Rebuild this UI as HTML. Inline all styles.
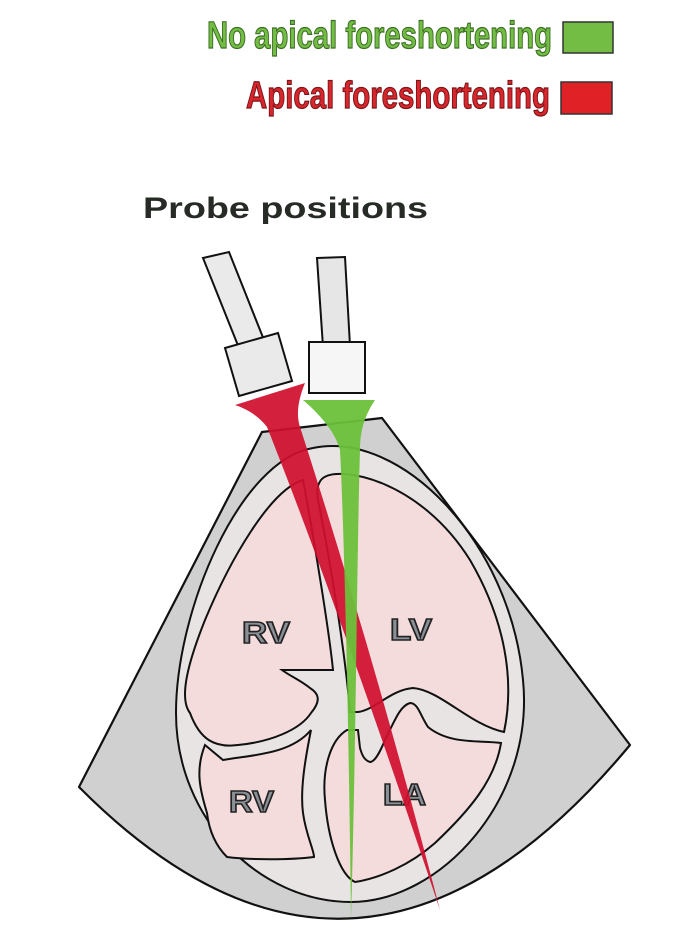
<!DOCTYPE html>
<html><head><meta charset="utf-8"><style>html,body{margin:0;padding:0;background:#fff}svg{display:block}</style></head>
<body>
<svg width="698" height="938" viewBox="0 0 698 938" xmlns="http://www.w3.org/2000/svg" font-family="Liberation Sans, sans-serif">
<!-- legend -->
<text x="207" y="48" font-size="38" font-weight="bold" fill="#74bd45" stroke="#3d6e25" stroke-width="1.2" textLength="345" lengthAdjust="spacingAndGlyphs">No apical foreshortening</text>
<rect x="563" y="22" width="50" height="31" fill="#74bd45" stroke="#333" stroke-width="1.5"/>
<text x="246" y="108" font-size="38" font-weight="bold" fill="#d9262c" stroke="#7a1518" stroke-width="1.2" textLength="304" lengthAdjust="spacingAndGlyphs">Apical foreshortening</text>
<rect x="561" y="82" width="51" height="32" fill="#e02226" stroke="#333" stroke-width="1.5"/>
<text x="143" y="218" font-size="30" font-weight="bold" fill="#262b26" textLength="285" lengthAdjust="spacingAndGlyphs">Probe positions</text>
<!-- sector -->
<path d="M262 432 L382 418 L630 745 Q360 1070 79 787 Z" fill="#d0d0d0" stroke="#111" stroke-width="2.2" stroke-linejoin="round"/>
<!-- heart outer -->
<path d="M313 448 C 400 430, 510 540, 523 680 C 535 800, 440 902, 351 902 C 260 902, 176 820, 176 713 C 176 610, 240 460, 313 448 Z" fill="#e8e4e4" stroke="#111" stroke-width="2"/>
<!-- RV upper -->
<path d="M303 480 C 270 490, 230 560, 205 620 C 185 670, 180 700, 190 713 C 200 740, 215 748, 238 745 C 270 742, 300 730, 311 713 C 322 700, 318 693, 310 688 C 300 680, 290 676, 282 670 L 333 670 C 330 640, 318 560, 303 480 Z" fill="#f4dcdc" stroke="#111" stroke-width="2"/>
<!-- LV -->
<path d="M323 478 C 340 465, 420 480, 470 560 C 505 620, 515 680, 504 732 C 470 725, 440 690, 413 688 C 390 690, 375 710, 358 712 L 350 712 C 345 650, 330 560, 318 500 C 316 490, 318 482, 323 478 Z" fill="#f4dcdc" stroke="#111" stroke-width="2"/>
<!-- RV lower -->
<path d="M205 745 L223 760 C 250 755, 290 755, 311 730 C 305 760, 300 790, 303 813 C 306 835, 314 850, 314 857 C 290 860, 250 860, 227 857 C 215 845, 209 830, 207 813 C 200 790, 195 770, 205 745 Z" fill="#f4dcdc" stroke="#111" stroke-width="2"/>
<!-- LA -->
<path d="M347 730 C 330 740, 322 770, 325 800 C 328 840, 340 875, 355 882 C 380 878, 410 865, 435 843 C 470 810, 495 780, 501 743 C 480 740, 450 745, 428 727 C 420 715, 418 703, 410 703 C 400 706, 395 720, 385 740 C 380 752, 375 762, 370 762 C 364 760, 362 755, 360 748 L 358 730 Z" fill="#f4dcdc" stroke="#111" stroke-width="2"/>
<!-- labels -->
<g font-size="31" font-weight="bold" fill="#8a9096" stroke="#222" stroke-width="1.6">
<text x="242" y="643" textLength="48" lengthAdjust="spacingAndGlyphs">RV</text>
<text x="390" y="640" textLength="42" lengthAdjust="spacingAndGlyphs">LV</text>
<text x="229" y="812" textLength="45" lengthAdjust="spacingAndGlyphs">RV</text>
<text x="383" y="805" textLength="43" lengthAdjust="spacingAndGlyphs">LA</text>
</g>
<!-- red beam -->
<path d="M235 405 L305 383 C 298 400, 296 415, 300 427 C 330 520, 380 680, 440 910 C 390 760, 320 560, 267 427 C 260 418, 250 410, 235 405 Z" fill="#d0102e" fill-opacity="0.93"/>
<!-- green beam -->
<path d="M303 400 L375 400 C 365 415, 360 430, 360 450 C 357 550, 356 750, 351 918 C 349 750, 345 550, 340 450 C 335 430, 315 410, 303 400 Z" fill="#6cc03a" fill-opacity="0.95"/>
<!-- probes -->
<polygon points="203,258 229,252 264,340 239,348" fill="#eaeaea" stroke="#111" stroke-width="2"/>
<polygon points="225,348 278,333 292,381 239,396" fill="#eaeaea" stroke="#111" stroke-width="2"/>
<polygon points="317,258 345,257 350,346 323,347" fill="#e6e6e6" stroke="#111" stroke-width="2"/>
<rect x="309" y="342" width="56" height="51" fill="#f6f6f6" stroke="#111" stroke-width="2"/>
</svg>
</body></html>
